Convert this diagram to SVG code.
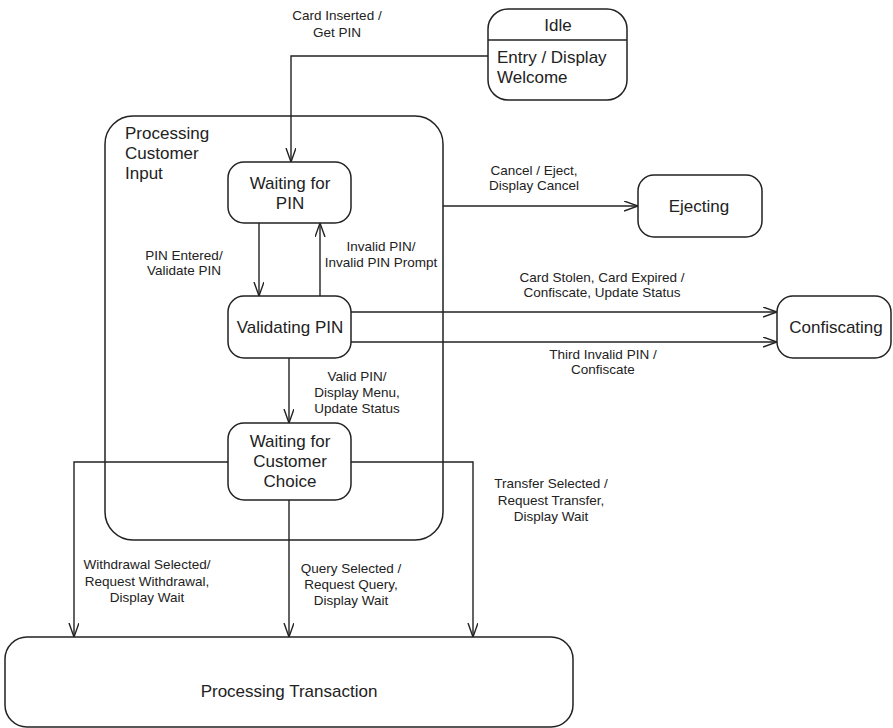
<svg xmlns="http://www.w3.org/2000/svg" width="893" height="728" viewBox="0 0 893 728">
<style>
.box{fill:#fff;stroke:#222;stroke-width:1.5}
.comp{fill:none;stroke:#222;stroke-width:1.5}
.edge{fill:none;stroke:#222;stroke-width:1.4}
.nt{font-family:"Liberation Sans",Arial,sans-serif;font-size:17px;fill:#222;text-anchor:middle}
.nl{font-family:"Liberation Sans",Arial,sans-serif;font-size:17px;fill:#222}
.lb{font-family:"Liberation Sans",Arial,sans-serif;font-size:13.5px;fill:#222;text-anchor:middle}
</style>
<defs>
<marker id="arr" markerUnits="userSpaceOnUse" markerWidth="16" markerHeight="12" refX="14" refY="5" orient="auto">
<path d="M0,0 L14,5 L0,10" fill="none" stroke="#222" stroke-width="1.4"/>
</marker>
</defs>
<rect width="893" height="728" fill="#fff"/>
<g id="processing-customer-input">
<rect class="comp" x="105" y="116" width="338" height="424" rx="28" ry="28"/>
<text class="nl" x="125" y="139">Processing</text>
<text class="nl" x="125" y="159">Customer</text>
<text class="nl" x="125" y="179">Input</text>
</g>
<g id="connectors">
<path class="edge" d="M488,56 H291 V162" marker-end="url(#arr)"/>
<path class="edge" d="M259,223 V296" marker-end="url(#arr)"/>
<path class="edge" d="M320,296 V223" marker-end="url(#arr)"/>
<path class="edge" d="M443,206 H638" marker-end="url(#arr)"/>
<path class="edge" d="M351,312 H777" marker-end="url(#arr)"/>
<path class="edge" d="M351,342 H777" marker-end="url(#arr)"/>
<path class="edge" d="M289,358 V423" marker-end="url(#arr)"/>
<path class="edge" d="M228,462 H74 V637" marker-end="url(#arr)"/>
<path class="edge" d="M289,500 V637" marker-end="url(#arr)"/>
<path class="edge" d="M351,462 H473 V637" marker-end="url(#arr)"/>
<text class="lb" x="337" y="20">Card Inserted /</text>
<text class="lb" x="337" y="37">Get PIN</text>
<text class="lb" x="184" y="259.5">PIN Entered/</text>
<text class="lb" x="184" y="275">Validate PIN</text>
<text class="lb" x="381" y="250.5">Invalid PIN/</text>
<text class="lb" x="381" y="267">Invalid PIN Prompt</text>
<text class="lb" x="534" y="175">Cancel / Eject,</text>
<text class="lb" x="534" y="190">Display Cancel</text>
<text class="lb" x="602" y="281.5">Card Stolen, Card Expired /</text>
<text class="lb" x="602" y="296.5">Confiscate, Update Status</text>
<text class="lb" x="603" y="359">Third Invalid PIN /</text>
<text class="lb" x="603" y="374">Confiscate</text>
<text class="lb" x="357" y="380.5">Valid PIN/</text>
<text class="lb" x="357" y="397">Display Menu,</text>
<text class="lb" x="357" y="413">Update Status</text>
<text class="lb" x="147" y="569">Withdrawal Selected/</text>
<text class="lb" x="147" y="585.5">Request Withdrawal,</text>
<text class="lb" x="147" y="601.5">Display Wait</text>
<text class="lb" x="351" y="573">Query Selected /</text>
<text class="lb" x="351" y="589">Request Query,</text>
<text class="lb" x="351" y="605">Display Wait</text>
<text class="lb" x="551" y="488">Transfer Selected /</text>
<text class="lb" x="551" y="504.5">Request Transfer,</text>
<text class="lb" x="551" y="521">Display Wait</text>
</g>
<g id="idle">
<rect class="box" x="488" y="9" width="139" height="91" rx="20" ry="20"/>
<line x1="488" y1="40" x2="627" y2="40" stroke="#222" stroke-width="1.5"/>
<text class="nt" x="558" y="31">Idle</text>
<text class="nl" x="497" y="63">Entry / Display</text>
<text class="nl" x="497" y="83">Welcome</text>
</g>
<g id="waiting-for-pin">
<rect class="box" x="228" y="162" width="123" height="61" rx="16" ry="16"/>
<text class="nt" x="290" y="189">Waiting for</text>
<text class="nt" x="290" y="209">PIN</text>
</g>
<g id="validating-pin">
<rect class="box" x="228" y="296" width="123" height="62" rx="16" ry="16"/>
<text class="nt" x="290" y="333">Validating PIN</text>
</g>
<g id="waiting-for-customer-choice">
<rect class="box" x="228" y="423" width="123" height="77" rx="16" ry="16"/>
<text class="nt" x="290" y="447">Waiting for</text>
<text class="nt" x="290" y="467">Customer</text>
<text class="nt" x="290" y="487">Choice</text>
</g>
<g id="ejecting">
<rect class="box" x="638" y="175" width="124" height="62" rx="16" ry="16"/>
<text class="nt" x="699" y="212">Ejecting</text>
</g>
<g id="confiscating">
<rect class="box" x="777" y="296" width="114" height="62" rx="16" ry="16"/>
<text class="nt" x="836" y="332.5">Confiscating</text>
</g>
<g id="processing-transaction">
<rect class="box" x="5" y="637" width="568" height="90" rx="22" ry="22"/>
<text class="nt" x="289" y="697">Processing Transaction</text>
</g>
</svg>
